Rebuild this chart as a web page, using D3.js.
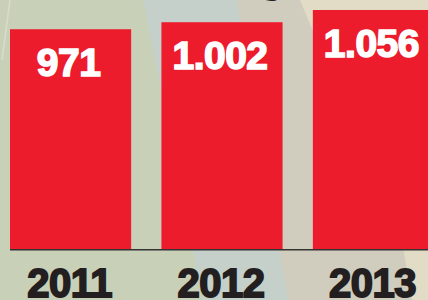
<!DOCTYPE html>
<html>
<head>
<meta charset="utf-8">
<script src="https://cdn.jsdelivr.net/npm/d3@7"></script>
<style>
  html, body { margin: 0; padding: 0; background: #c9d0b8; }
  svg { display: block; }
</style>
</head>
<body>
<svg id="chart"></svg>
<script>
// chart data
const years = ['2011', '2012', '2013']
const counts = [971, 1002, 1056]
const valueLabels = ['971', '1.002', '1.056']

const width = 428, height = 300
const margin = {left: 10, baseline: 249, top: 10}

const svg = d3.select('#chart')
  .attr('width', width)
  .attr('height', height)

// map-like background pieces
const bg = svg.append('g').attr('class', 'bg')
bg.append('rect').attr('width', width).attr('height', height).attr('fill', '#c9d0b8')
bg.append('path').attr('d', 'M143,0 L237,0 L288,300 L203,300 Z').attr('fill', '#c4d0c9')
bg.append('path').attr('d', 'M237,0 L428,0 L428,300 L288,300 Z').attr('fill', '#d0cdbe')
bg.append('path').attr('d', 'M300,0 L428,0 L428,60 L325,60 Z').attr('fill', '#e2dcc7')
bg.append('path').attr('d', 'M395,200 L428,200 L428,300 L412,300 Z').attr('fill', '#e2dcc7')
bg.append('path').attr('d', 'M10,0 L2,60').attr('stroke', '#d9dccb').attr('stroke-width', 1.5).attr('fill', 'none')

// descender of the title above the crop
svg.append('text')
  .attr('x', 272).attr('y', -7)
  .attr('text-anchor', 'middle')
  .attr('font-family', 'Liberation Sans, Arial, sans-serif')
  .attr('font-weight', 'bold')
  .attr('font-size', 40)
  .attr('fill', '#231f20')
  .text('g')

const x = d3.scaleBand()
  .domain(years)
  .range([margin.left, margin.left + 424])
  .paddingInner(0.2)
  .paddingOuter(0)

const y = d3.scaleLinear()
  .domain([0, d3.max(counts)])
  .range([margin.baseline, margin.top])

const bars = svg.selectAll('.bar')
  .data(years.map((yr, i) => ({year: yr, count: counts[i], label: valueLabels[i]})))
  .enter().append('g')
  .attr('class', 'bar')

bars.append('rect')
  .attr('x', d => x(d.year))
  .attr('y', d => y(d.count))
  .attr('width', x.bandwidth())
  .attr('height', d => y(0) - y(d.count))
  .attr('fill', '#ed1c2c')

bars.append('text')
  .attr('x', d => x(d.year) + x.bandwidth() / 2 - 2)
  .attr('y', d => y(d.count) + 47)
  .attr('text-anchor', 'middle')
  .attr('font-family', 'Liberation Sans, Arial, sans-serif')
  .attr('font-weight', 'bold')
  .attr('font-size', 39)
  .attr('fill', '#fff')
  .attr('stroke', '#fff')
  .attr('stroke-width', 1.6)
  .attr('letter-spacing', -0.5)
  .text(d => d.label)

// baseline
svg.append('line')
  .attr('x1', margin.left).attr('x2', width)
  .attr('y1', y(0) + 0.75).attr('y2', y(0) + 0.75)
  .attr('stroke', '#333')
  .attr('stroke-width', 1.5)

// year labels
const axis = d3.axisBottom(x).tickSize(0).tickPadding(0)
const axisG = svg.append('g')
  .attr('transform', `translate(0, ${y(0)})`)
  .call(axis)
axisG.select('.domain').remove()
axisG.selectAll('text')
  .attr('dy', null)
  .attr('y', 48)
  .attr('dx', -1)
  .attr('font-family', 'Liberation Sans, Arial, sans-serif')
  .attr('font-weight', 'bold')
  .attr('font-size', 40)
  .attr('fill', '#231f20')
  .attr('stroke', '#231f20')
  .attr('stroke-width', 1.8)
  .attr('letter-spacing', -0.5)
</script>
</body>
</html>
